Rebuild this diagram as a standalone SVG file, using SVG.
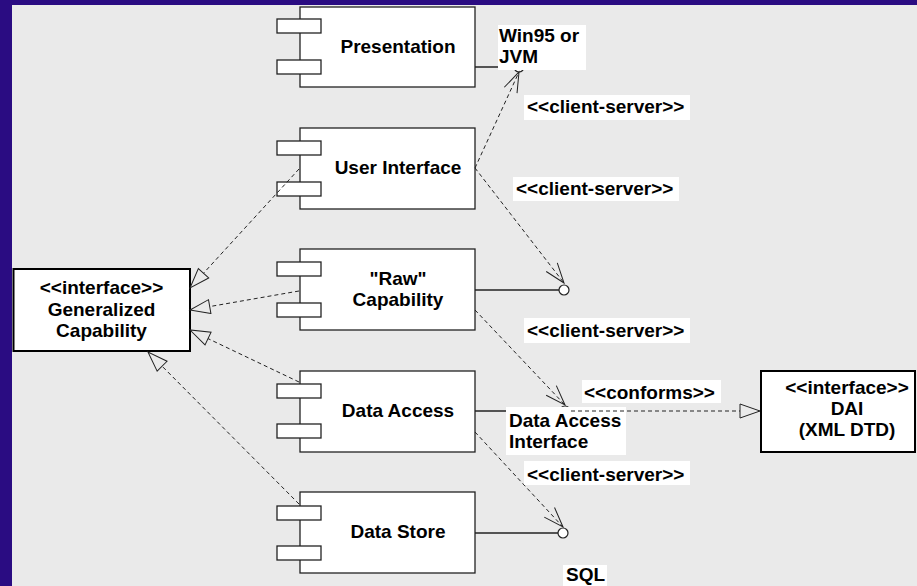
<svg xmlns="http://www.w3.org/2000/svg" width="917" height="586" viewBox="0 0 917 586">
<style>
  text { font-family: "Liberation Sans", Arial, sans-serif; font-weight: bold; font-size: 19px; fill: #000; }
  .c { text-anchor: middle; }
  .box { fill: #fff; stroke: #222; stroke-width: 1.3; }
  .ibox { fill: #fff; stroke: #000; stroke-width: 2; }
  .lbl { fill: #fff; stroke: none; }
  .dash { fill: none; stroke: #222; stroke-width: 1; stroke-dasharray: 4 3; }
  .solid { fill: none; stroke: #222; stroke-width: 1.3; }
  .lolly { fill: #fff; stroke: #222; stroke-width: 1.2; }
</style>
<defs>
  <marker id="hollow" markerUnits="userSpaceOnUse" markerWidth="24" markerHeight="18" refX="20" refY="8" orient="auto" overflow="visible">
    <path d="M0,1 L20,8 L0,15 Z" fill="#eaeaea" stroke="#222" stroke-width="1"/>
  </marker>
  <marker id="open" markerUnits="userSpaceOnUse" markerWidth="24" markerHeight="18" refX="20" refY="8" orient="auto" overflow="visible">
    <path d="M0,1 L20,8 L0,15" fill="none" stroke="#222" stroke-width="1"/>
  </marker>
</defs>
<rect x="0" y="0" width="917" height="586" fill="#eaeaea"/>
<rect x="0" y="0" width="917" height="5" fill="#2a0c82"/>
<rect x="0" y="0" width="12" height="586" fill="#2a0c82"/>

<g id="lollipops">
  <line class="solid" x1="475" y1="67" x2="514" y2="67"/>
  <circle class="lolly" cx="519" cy="67" r="5"/>
  <line class="solid" x1="475" y1="290" x2="559" y2="290"/>
  <circle class="lolly" cx="564" cy="290" r="5"/>
  <line class="solid" x1="475" y1="411" x2="560" y2="411"/>
  <circle class="lolly" cx="565" cy="411" r="5"/>
  <line class="solid" x1="475" y1="533" x2="558" y2="533"/>
  <circle class="lolly" cx="563" cy="533" r="5"/>
</g>

<g id="presentation">
  <rect class="box" x="300" y="7" width="175" height="80"/>
  <rect class="box" x="277" y="19" width="44" height="14"/>
  <rect class="box" x="277" y="60" width="44" height="14"/>
  <text class="c" x="398" y="53">Presentation</text>
</g>
<g id="user-interface">
  <rect class="box" x="300" y="128" width="175" height="81"/>
  <rect class="box" x="277" y="141" width="44" height="14"/>
  <rect class="box" x="277" y="182" width="44" height="14"/>
  <text class="c" x="398" y="174">User Interface</text>
</g>
<g id="raw-capability">
  <rect class="box" x="300" y="249" width="175" height="81"/>
  <rect class="box" x="277" y="262" width="44" height="14"/>
  <rect class="box" x="277" y="303" width="44" height="14"/>
  <text class="c" x="398" y="285">"Raw"</text>
  <text class="c" x="398" y="306">Capability</text>
</g>
<g id="data-access">
  <rect class="box" x="300" y="371" width="175" height="81"/>
  <rect class="box" x="277" y="384" width="44" height="14"/>
  <rect class="box" x="277" y="424" width="44" height="14"/>
  <text class="c" x="398" y="417">Data Access</text>
</g>
<g id="data-store">
  <rect class="box" x="300" y="492" width="175" height="81"/>
  <rect class="box" x="277" y="506" width="44" height="14"/>
  <rect class="box" x="277" y="546" width="44" height="14"/>
  <text class="c" x="398" y="538">Data Store</text>
</g>
<g id="generalized-capability">
  <rect class="ibox" x="13.5" y="269" width="176.5" height="82"/>
  <text class="c" x="101.5" y="294">&lt;&lt;interface&gt;&gt;</text>
  <text class="c" x="101.5" y="316">Generalized</text>
  <text class="c" x="101.5" y="337">Capability</text>
</g>
<g id="dai">
  <rect class="ibox" x="761" y="371" width="154" height="81"/>
  <text class="c" x="847" y="394">&lt;&lt;interface&gt;&gt;</text>
  <text class="c" x="847" y="415">DAI</text>
  <text class="c" x="847" y="436">(XML DTD)</text>
</g>

<g id="connectors">
  <line class="dash" x1="299" y1="169" x2="190" y2="288" marker-end="url(#hollow)"/>
  <line class="dash" x1="299" y1="291" x2="190" y2="310" marker-end="url(#hollow)"/>
  <line class="dash" x1="299" y1="382" x2="190" y2="330" marker-end="url(#hollow)"/>
  <line class="dash" x1="299" y1="504" x2="148" y2="352" marker-end="url(#hollow)"/>
  <line class="dash" x1="475" y1="168" x2="519" y2="72" marker-end="url(#open)"/>
  <line class="dash" x1="475" y1="168" x2="564" y2="283" marker-end="url(#open)"/>
  <line class="dash" x1="475" y1="310" x2="565" y2="405" marker-end="url(#open)"/>
  <line class="dash" x1="475" y1="432" x2="563" y2="527" marker-end="url(#open)"/>
</g>

<g id="labels">
  <rect class="lbl" x="498" y="25" width="88" height="45"/>
  <text x="499" y="42">Win95 or</text>
  <text x="499" y="63">JVM</text>
  <rect class="lbl" x="524" y="95" width="166" height="25"/>
  <text x="527" y="113">&lt;&lt;client-server&gt;&gt;</text>
  <rect class="lbl" x="513" y="177" width="166" height="24"/>
  <text x="516" y="195">&lt;&lt;client-server&gt;&gt;</text>
  <rect class="lbl" x="524" y="318" width="166" height="25"/>
  <text x="527" y="337">&lt;&lt;client-server&gt;&gt;</text>
  <rect class="lbl" x="582" y="380" width="139" height="23"/>
  <text x="584" y="399">&lt;&lt;conforms&gt;&gt;</text>
  <rect class="lbl" x="506" y="407" width="120" height="48"/>
  <text x="509" y="427">Data Access</text>
  <text x="509" y="448">Interface</text>
  <rect class="lbl" x="524" y="461" width="166" height="24"/>
  <text x="527" y="481">&lt;&lt;client-server&gt;&gt;</text>
  <rect class="lbl" x="563" y="565" width="44" height="21"/>
  <text x="566" y="581">SQL</text>
</g>

<g id="conforms-connector">
  <line class="dash" x1="571" y1="411" x2="760" y2="411" marker-end="url(#hollow)"/>
</g>
</svg>
